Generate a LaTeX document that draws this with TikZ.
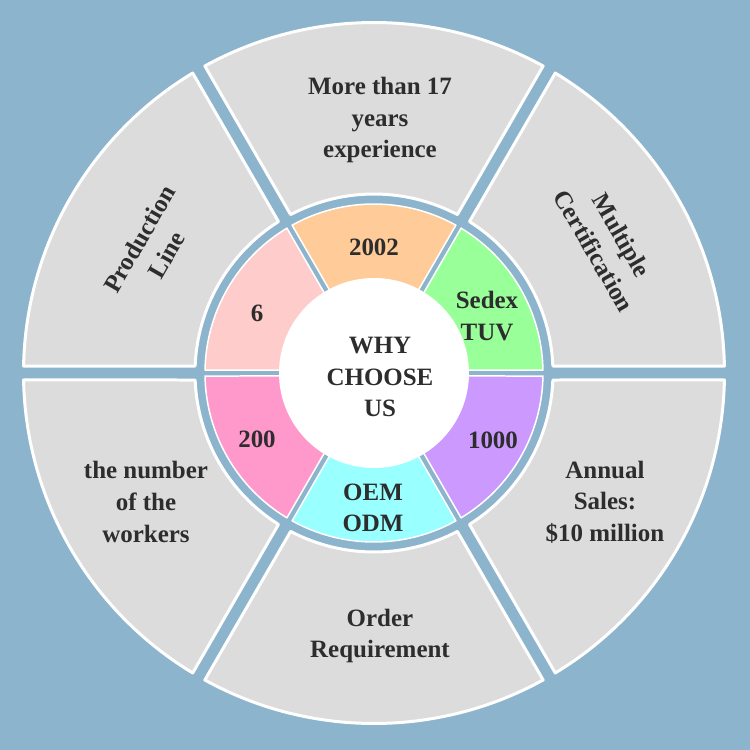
\documentclass[tikz,border=0pt]{standalone}
\usepackage{fontspec}
\setmainfont{Liberation Serif}
\definecolor{bgblue}{RGB}{141,180,205}
\definecolor{seggray}{RGB}{220,220,220}
\definecolor{txtgray}{RGB}{45,45,45}
\definecolor{segorange}{RGB}{255,204,153}
\definecolor{seggreen}{RGB}{153,255,153}
\definecolor{segpurple}{RGB}{204,153,255}
\definecolor{segcyan}{RGB}{153,255,255}
\definecolor{segpink}{RGB}{255,153,204}
\definecolor{segrose}{RGB}{255,204,204}
% annular sector with a straight gap of half width #5
\newcommand{\ringseg}[6]{%
  \pgfmathsetmacro{\dOut}{asin(#5/#4)}%
  \pgfmathsetmacro{\dIn}{asin(#5/#3)}%
  \pgfmathsetmacro{\sOut}{#1+\dOut}%
  \pgfmathsetmacro{\eOut}{#2-\dOut}%
  \pgfmathsetmacro{\sIn}{#2-\dIn}%
  \pgfmathsetmacro{\eIn}{#1+\dIn}%
  \path[#6] (\sOut:#4) arc[start angle=\sOut,end angle=\eOut,radius=#4]
    -- (\sIn:#3) arc[start angle=\sIn,end angle=\eIn,radius=#3] -- cycle;}

\begin{document}
\begin{tikzpicture}[
  outerseg/.style={fill=seggray,draw=white,line width=0.06cm,line join=round},
  innerseg/.style={draw=white,line width=0.03cm,line join=round},
  lbl/.style={font=\fontsize{14.2}{18}\selectfont\bfseries,text=txtgray,align=center}]
\fill[bgblue] (-7.48,-7.54) rectangle (7.52,7.46);

% outer ring
\foreach \a in {0,60,...,300}
  \ringseg{\a}{\a+60}{3.58}{7.01}{0.14}{outerseg};

% inner ring
\foreach \a/\c in {0/seggreen,60/segorange,120/segrose,180/segpink,240/segcyan,300/segpurple}
  \ringseg{\a}{\a+60}{1.8}{3.38}{0.06}{innerseg,fill=\c};
\fill[white] (0,0) circle (1.9);

\node[lbl] (why) at (0.12,-0.08) {WHY\\CHOOSE\\US};

\node[lbl] (years) at (0.12,5.06) {More than 17\\years\\experience};
\node[lbl,rotate=-60] (cert) at (4.68,2.6) {Multiple\\Certification};
\node[lbl,rotate=60] (line) at (-4.42,2.52) {Production\\Line};
\node[lbl] (workers) at (-4.56,-2.58) {the number\\of the\\workers};
\node[lbl] (sales) at (4.62,-2.58) {Annual\\Sales:\\\$10 million};
\node[lbl] (order) at (0.12,-5.26) {Order\\Requirement};

\node[lbl] (founded) at (0,2.52) {2002};
\node[lbl] (sedex) at (2.26,1.14) {Sedex\\TUV};
\node[lbl] (lines) at (-2.34,1.2) {6};
\node[lbl] (staff) at (-2.34,-1.32) {200};
\node[lbl] (million) at (2.38,-1.34) {1000};
\node[lbl] (oem) at (-0.02,-2.7) {OEM\\ODM};
\end{tikzpicture}
\end{document}
